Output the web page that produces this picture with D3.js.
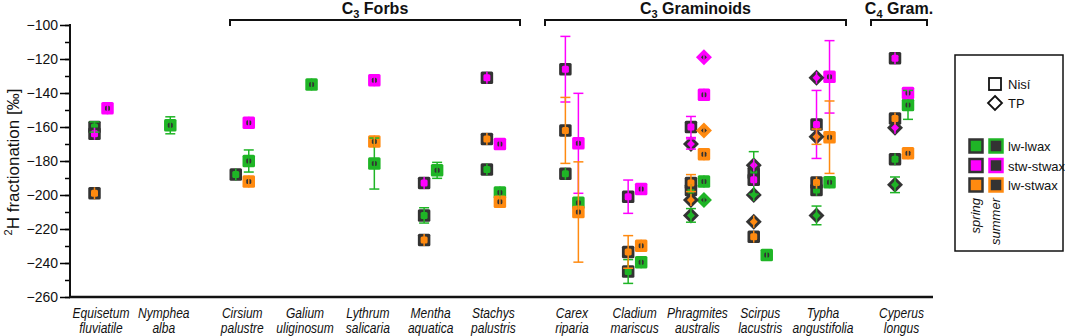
<!DOCTYPE html>
<html lang="en">
    <head>
        <meta charset="utf-8">
        <title>2H fractionation by species</title>
        <script type="text/javascript" src="https://cdn.jsdelivr.net/npm/d3@7"></script>
        <style type="text/css">
            body { margin: 0; background: #fff; }
            text { font-family: "Liberation Sans", Arial, sans-serif; }
        </style>
    </head>

    <body>
        <script type="text/javascript">
            // Species on the x axis (two lines each) and their position slot
            var species = [
                ["Equisetum", "fluviatile"], ["Nymphea", "alba"],
                ["Cirsium", "palustre"], ["Galium", "uliginosum"], ["Lythrum", "salicaria"],
                ["Mentha", "aquatica"], ["Stachys", "palustris"],
                ["Carex", "riparia"], ["Cladium", "mariscus"], ["Phragmites", "australis"],
                ["Scirpus", "lacustris"], ["Typha", "angustifolia"],
                ["Cyperus", "longus"]
            ];
            var slots = [0, 1, 2.25, 3.25, 4.25, 5.25, 6.25, 7.5, 8.5, 9.5, 10.5, 11.5, 12.75];

            // Groups: [main, subscript, rest, first species, last species]
            var groups = [
                ["C", "3", " Forbs", 2, 6],
                ["C", "3", " Graminoids", 7, 11],
                ["C", "4", " Gram.", 12, 12]
            ];

            var yTicks = [-100, -120, -140, -160, -180, -200, -220, -240, -260];

            // Points: [species index, season, method (N = Nisí, T = TP), value, error]
            var lwLwax = [
                [0, "sp", "N", -160, 3], [1, "su", "N", -159, 5],
                [2, "sp", "N", -188, 0], [2, "su", "N", -180, 6.5],
                [3, "su", "N", -135, 0], [4, "su", "N", -181.5, 15],
                [5, "sp", "N", -212, 4.5], [5, "su", "N", -185.5, 4.7],
                [6, "sp", "N", -185, 0], [6, "su", "N", -198.5, 0],
                [7, "sp", "N", -187.5, 0], [7, "su", "N", -204.5, 0],
                [8, "sp", "N", -245, 7], [8, "su", "N", -239.5, 0],
                [9, "sp", "N", -197, 0], [9, "su", "N", -192, 0], [9, "sp", "T", -212, 4], [9, "su", "T", -203, 0],
                [10, "sp", "N", -187, 12.5], [10, "sp", "T", -200, 0], [10, "su", "N", -235.3, 0],
                [11, "sp", "N", -197, 0], [11, "su", "N", -192.5, 0], [11, "sp", "T", -212, 5.5],
                [12, "sp", "N", -179, 0], [12, "su", "N", -147, 8.5], [12, "sp", "T", -194, 4.6]
            ];
            var stwStwax = [
                [0, "sp", "N", -164, 0], [0, "su", "N", -149, 0],
                [2, "su", "N", -157.5, 0], [4, "su", "N", -132.5, 0],
                [5, "sp", "N", -193, 0],
                [6, "sp", "N", -131, 0], [6, "su", "N", -170, 0],
                [7, "sp", "N", -126, 19.3], [7, "su", "N", -169.6, 29.4],
                [8, "sp", "N", -201, 9.8], [8, "su", "N", -196.5, 0],
                [9, "sp", "N", -160, 6.2], [9, "su", "N", -141, 0], [9, "sp", "T", -170, 3], [9, "su", "T", -119, 0],
                [10, "sp", "N", -191, 0], [10, "sp", "T", -182.5, 0],
                [11, "sp", "N", -158.5, 20], [11, "su", "N", -130.5, 21.3], [11, "sp", "T", -131, 0],
                [12, "sp", "N", -119.5, 0], [12, "su", "N", -140, 3], [12, "sp", "T", -160.5, 0]
            ];
            var lwStwax = [
                [0, "sp", "N", -199, 0], [2, "su", "N", -192, 0],
                [4, "su", "N", -168.5, 0], [5, "sp", "N", -226.5, 0],
                [6, "sp", "N", -167, 0], [6, "su", "N", -204, 0],
                [7, "sp", "N", -162, 19.4], [7, "su", "N", -210, 29.5],
                [8, "sp", "N", -233.5, 9.6], [8, "su", "N", -229.8, 0],
                [9, "sp", "N", -193, 5], [9, "su", "N", -176, 0], [9, "sp", "T", -203, 0], [9, "su", "T", -162, 0],
                [10, "sp", "N", -224.5, 0], [10, "sp", "T", -215.7, 0],
                [11, "sp", "N", -192.7, 0], [11, "su", "N", -166, 21.3], [11, "sp", "T", -165.7, 4.5],
                [12, "sp", "N", -155, 0], [12, "su", "N", -175.5, 0]
            ];

            var seriesNames = ["lw-lwax", "stw-stwax", "lw-stwax"];
            var seriesColors = ["#1fb526", "#ff00ff", "#ff8a10"];
            var seriesData = [lwLwax, stwStwax, lwStwax];
            var dark = "#333333";

            var w = 1065;
            var h = 336;
            var svg = d3.select("body")
                        .append("svg")
                        .attr("width", w)
                        .attr("height", h);

            // Scales
            var xScale = d3.scaleLinear()
                            .domain([0, 12.75])
                            .range([101, 901.5]);
            var yScale = d3.scaleLinear()
                            .domain([-260, -100])
                            .range([297, 25]);
            var offset = { sp: -6.5, su: 6.5 };
            function px(d) { return xScale(slots[d[0]]) + offset[d[1]]; }

            // Y axis: minor ticks every 10, labelled ticks every 20
            svg.append("g")
                .attr("transform", "translate(70,0)")
                .call(d3.axisLeft(yScale).tickValues(d3.range(-260, -99, 10)).tickSize(5).tickFormat(""))
                .call(function(g) { g.select(".domain").remove(); g.selectAll("line").attr("stroke-width", 1.5); });
            svg.append("g")
                .attr("transform", "translate(70,0)")
                .call(d3.axisLeft(yScale).tickValues(yTicks).tickSize(10).tickPadding(2))
                .call(function(g) {
                    g.select(".domain").remove();
                    g.selectAll("line").attr("stroke-width", 1.5);
                    g.selectAll("text").attr("font-size", "14px").attr("fill", "#111")
                        .attr("font-family", "Liberation Sans, Arial, sans-serif");
                });
            svg.append("line")
                .attr("x1", 70).attr("x2", 70).attr("y1", 24).attr("y2", 298)
                .attr("stroke", "#111").attr("stroke-width", 2);
            svg.append("line")
                .attr("x1", 69).attr("x2", 933).attr("y1", 297).attr("y2", 297)
                .attr("stroke", "#111").attr("stroke-width", 2.5);

            // Y axis title
            var ytitle = svg.append("text")
                .attr("transform", "translate(19,162) rotate(-90)")
                .attr("text-anchor", "middle")
                .attr("font-size", "17px")
                .attr("fill", "#111");
            ytitle.append("tspan").attr("font-size", "11px").attr("dy", "-7").text("2");
            ytitle.append("tspan").attr("dy", "7").text("H fractionation [‰]");

            // Species labels (condensed italic, two lines)
            var lab = svg.selectAll(".sp-label")
                .data(species)
                .enter()
                .append("g")
                .attr("class", "sp-label")
                .attr("transform", function(d, i) { return "translate(" + xScale(slots[i]) + ",318) scale(0.86,1)"; })
                .append("text")
                .attr("x", 0)
                .attr("y", 0)
                .attr("text-anchor", "middle")
                .attr("font-size", "14px")
                .attr("font-style", "italic")
                .attr("fill", "#111");
            lab.append("tspan").text(function(d) { return d[0]; });
            lab.append("tspan")
                .attr("x", 0)
                .attr("dy", 15)
                .text(function(d) { return d[1]; });

            // Group brackets and titles
            var bracketEnds = [[230, 520], [545, 846], [871, 927]];
            groups.forEach(function(g, i) {
                var x0 = bracketEnds[i][0];
                var x1 = bracketEnds[i][1];
                svg.append("path")
                    .attr("d", "M" + x0 + ",26V20H" + x1 + "V26")
                    .attr("fill", "none")
                    .attr("stroke", "#111")
                    .attr("stroke-width", 2);
                var t = svg.append("text")
                    .attr("x", (x0 + x1) / 2)
                    .attr("y", 14)
                    .attr("text-anchor", "middle")
                    .attr("font-size", "16px")
                    .attr("font-weight", "bold")
                    .attr("fill", "#111");
                t.append("tspan").text(g[0]);
                t.append("tspan").attr("font-size", "11px").attr("dy", 4).text(g[1]);
                t.append("tspan").attr("dy", -4).text(g[2]);
            });

            // Marker drawing helpers
            function square(sel, cx, cy, size, fill) {
                sel.append("rect")
                    .attr("x", cx - size / 2).attr("y", cy - size / 2)
                    .attr("width", size).attr("height", size)
                    .attr("rx", 1.5)
                    .attr("fill", fill);
            }
            function diamond(sel, cx, cy, r, fill) {
                sel.append("path")
                    .attr("d", "M" + cx + "," + (cy - r) + "L" + (cx + r) + "," + cy + "L" + cx + "," + (cy + r) + "L" + (cx - r) + "," + cy + "Z")
                    .attr("fill", fill);
            }
            function marker(sel, cx, cy, season, method, color) {
                var outer = season === "sp" ? dark : color;
                var inner = season === "sp" ? color : dark;
                if (method === "N") {
                    square(sel, cx, cy, 12.5, outer);
                    square(sel, cx, cy, season === "sp" ? 7 : 5, inner);
                } else {
                    diamond(sel, cx, cy, 8, outer);
                    diamond(sel, cx, cy, season === "sp" ? 4 : 3, inner);
                }
            }

            var plot = svg.append("g");

            // Markers
            seriesData.forEach(function(data, s) {
                data.forEach(function(d) {
                    marker(plot, px(d), yScale(d[3]), d[1], d[2], seriesColors[s]);
                });
            });

            // Error bars on top (they run through the markers)
            seriesData.forEach(function(data, s) {
                var c = seriesColors[s];
                data.forEach(function(d) {
                    var x = px(d);
                    var cy = yScale(d[3]);
                    var y0 = yScale(d[3] + d[4]);
                    var y1 = yScale(d[3] - d[4]);
                    plot.append("line")
                        .attr("x1", x).attr("x2", x)
                        .attr("y1", Math.min(y0, cy - 6)).attr("y2", Math.max(y1, cy + 6))
                        .attr("stroke", c).attr("stroke-width", 1.5);
                    if (d[4] > 0) {
                        [y0, y1].forEach(function(yy) {
                            plot.append("line")
                                .attr("x1", x - 5).attr("x2", x + 5)
                                .attr("y1", yy).attr("y2", yy)
                                .attr("stroke", c).attr("stroke-width", 1.5);
                        });
                    }
                });
            });

            // Legend
            var lg = svg.append("g");
            lg.append("rect")
                .attr("x", 955).attr("y", 55).attr("width", 108).attr("height", 196)
                .attr("fill", "#fff").attr("stroke", "#111").attr("stroke-width", 1.5);
            lg.append("rect")
                .attr("x", 989).attr("y", 78).attr("width", 12).attr("height", 12)
                .attr("fill", "#fff").attr("stroke", "#111").attr("stroke-width", 1.8);
            lg.append("path")
                .attr("d", "M995,96L1002,103L995,110L988,103Z")
                .attr("fill", "#fff").attr("stroke", "#111").attr("stroke-width", 1.8);
            lg.append("text").attr("x", 1008).attr("y", 89).attr("font-size", "13px").attr("fill", "#111").text("Nisí");
            lg.append("text").attr("x", 1008).attr("y", 108).attr("font-size", "13px").attr("fill", "#111").text("TP");
            seriesNames.forEach(function(name, i) {
                var yy = 146 + i * 19.5;
                lg.append("rect")
                    .attr("x", 969.5).attr("y", yy - 6.5).attr("width", 13).attr("height", 13)
                    .attr("fill", seriesColors[i]).attr("stroke", dark).attr("stroke-width", 2.5);
                lg.append("rect")
                    .attr("x", 989.5).attr("y", yy - 6.5).attr("width", 13).attr("height", 13)
                    .attr("fill", dark).attr("stroke", seriesColors[i]).attr("stroke-width", 2.5);
                lg.append("text")
                    .attr("x", 1008).attr("y", yy + 5)
                    .attr("font-size", "13px").attr("fill", "#111")
                    .text(name);
            });
            ["spring", "summer"].forEach(function(s, i) {
                lg.append("text")
                    .attr("transform", "translate(" + (980 + i * 20) + ",198) rotate(-90)")
                    .attr("text-anchor", "end")
                    .attr("font-size", "13px")
                    .attr("font-style", "italic")
                    .attr("fill", "#111")
                    .text(s);
            });
        </script>
    </body>
</html>
